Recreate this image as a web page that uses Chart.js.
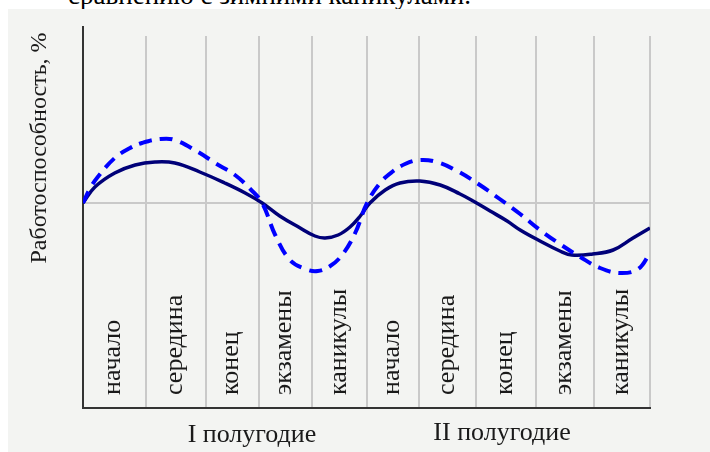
<!DOCTYPE html>
<html><head><meta charset="utf-8">
<script src="https://cdn.jsdelivr.net/npm/chart.js@4/dist/chart.umd.min.js"></script>
<style>
html,body{margin:0;padding:0;background:#fff;width:710px;height:452px;overflow:hidden;}
#top{position:absolute;left:68px;top:-20px;font-size:27px;font-family:"Liberation Serif",serif;color:#000;white-space:nowrap;}
#panel{position:absolute;left:8px;top:9px;right:0;bottom:0;background:#f3f4f2;}
#wrap{position:absolute;left:0;top:0;width:710px;height:452px;}
</style></head><body>
<div id="top">сравнению с зимними каникулами.</div>
<div id="panel"></div>
<div id="wrap"><canvas id="c" width="710" height="452"></canvas></div>
<script>
// Phases of the academic year (categories between the vertical lines)
const phaseLabels = ['начало','середина','конец','экзамены','каникулы','начало','середина','конец','экзамены','каникулы'];
// Phase boundaries on a 0..100 time scale
const phaseEdges = [0, 11.1, 21.7, 31.0, 40.4, 50.1, 59.3, 69.3, 79.9, 90.1, 100];
const halfYearLabels = ['I полугодие', 'II полугодие'];
const yAxisTitle = 'Работоспособность, %';

// Solid (dark) curve: time and relative work capacity (0 = baseline)
const solidX = [0, 2.1, 5.6, 9.2, 12.7, 16.2, 20.6, 25.0, 28.6, 31.6, 34.7, 38.3, 40.9, 42.7, 45.0, 47.1, 48.9, 50.6, 53.3, 55.9, 59.4, 63.0, 66.5, 68.8, 71.8, 74.8, 77.1, 80.6, 84.1, 86.2, 89.9, 93.5, 97.0, 100];
const solidY = [0, 16, 30, 38, 41, 40, 31, 20, 10, 0, -13, -25, -33, -35, -32, -24, -13, 0, 13, 20, 22, 18, 9, 2, -8, -18, -27, -38, -48, -52, -51, -47, -35, -25];

// Dashed (blue) curve
const dashedX = [0, 1.2, 2.6, 5.6, 8.3, 10.4, 13.6, 16.2, 20.3, 23.3, 26.8, 29.5, 31.6, 33.9, 36.5, 39.2, 41.4, 43.6, 45.7, 48.0, 50.1, 52.4, 54.5, 56.8, 59.4, 62.4, 66.0, 70.0, 73.5, 77.1, 80.6, 84.1, 87.7, 91.2, 94.7, 97.9, 100];
const dashedY = [0, 14, 26, 45, 55, 60, 64, 63, 51, 40, 28, 14, 0, -32, -57, -66, -68, -63, -52, -30, 0, 20, 31, 39, 43, 41, 32, 18, 4, -11, -27, -41, -54, -65, -70, -66, -50];

const toPoints = (xs, ys) => xs.map((x, i) => ({x: x, y: ys[i]}));

const FONT = '"Liberation Serif", "Times New Roman", serif';

const labelsPlugin = {
  id: 'labelsPlugin',
  afterDraw(chart) {
    const ctx = chart.ctx;
    const xs = chart.scales.x;
    const area = chart.chartArea;
    ctx.save();
    // y axis line extends a little above the grid
    ctx.strokeStyle = '#333';
    ctx.lineWidth = 2;
    ctx.beginPath();
    ctx.moveTo(area.left, area.top);
    ctx.lineTo(area.left, area.top - 10);
    ctx.stroke();

    ctx.fillStyle = '#1a1a1a';
    // phase labels, rotated
    ctx.font = '26px ' + FONT;
    ctx.textAlign = 'left';
    ctx.textBaseline = 'alphabetic';
    for (let i = 0; i < phaseLabels.length; i++) {
      const xc = xs.getPixelForValue((phaseEdges[i] + phaseEdges[i + 1]) / 2);
      ctx.save();
      ctx.translate(xc + 6, area.bottom - 13);
      ctx.rotate(-Math.PI / 2);
      ctx.fillText(phaseLabels[i], 0, 0);
      ctx.restore();
    }
    // half-year labels
    ctx.textAlign = 'center';
    const halfPos = [29.8, 73.9];
    const halfBase = [442, 440];
    for (let i = 0; i < halfYearLabels.length; i++) {
      ctx.fillText(halfYearLabels[i], xs.getPixelForValue(halfPos[i]), halfBase[i]);
    }
    // y axis title
    ctx.font = '24px ' + FONT;
    ctx.save();
    ctx.translate(46, 148);
    ctx.rotate(-Math.PI / 2);
    ctx.textAlign = 'center';
    ctx.fillText(yAxisTitle, 0, 0);
    ctx.restore();
    ctx.restore();
  }
};

new Chart(document.getElementById('c'), {
  type: 'line',
  data: {
    datasets: [
      {
        label: 'B',
        data: toPoints(dashedX, dashedY),
        borderColor: '#0000ff',
        borderWidth: 4,
        borderDash: [13, 8],
        pointRadius: 0,
        tension: 0.4,
        fill: false
      },
      {
        label: 'A',
        data: toPoints(solidX, solidY),
        borderColor: '#000078',
        borderWidth: 3.5,
        pointRadius: 0,
        tension: 0.4,
        fill: false
      }
    ]
  },
  options: {
    responsive: false,
    animation: false,
    layout: {padding: {left: 83, right: 60, top: 36, bottom: 44}},
    plugins: {legend: {display: false}, tooltip: {enabled: false}, title: {display: false}},
    scales: {
      x: {
        type: 'linear',
        min: 0, max: 100,
        afterBuildTicks: (s) => { s.ticks = phaseEdges.map(v => ({value: v})); },
        ticks: {display: false},
        grid: {color: '#c9c9c9', lineWidth: 2, drawTicks: false},
        border: {display: true, color: '#333', width: 2}
      },
      y: {
        type: 'linear',
        min: -205, max: 167,
        afterBuildTicks: (s) => { s.ticks = [{value: 0}]; },
        ticks: {display: false},
        grid: {color: '#c9c9c9', lineWidth: 2, drawTicks: false},
        border: {display: true, color: '#333', width: 2}
      }
    }
  },
  plugins: [labelsPlugin]
});
</script>
</body></html>
